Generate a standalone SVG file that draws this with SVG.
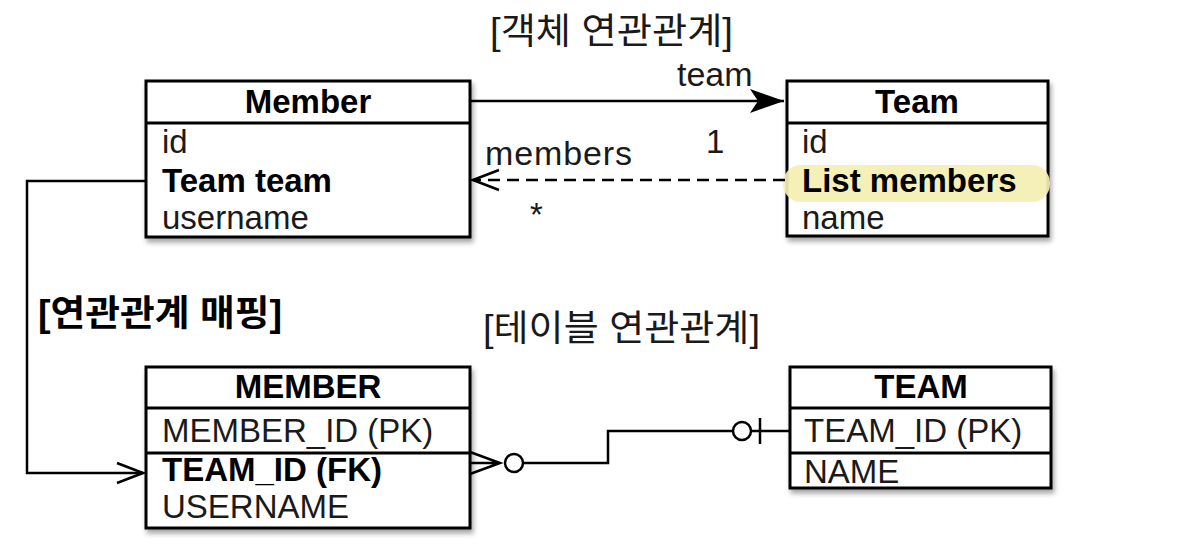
<svg xmlns="http://www.w3.org/2000/svg" width="1196" height="552" viewBox="0 0 1196 552">
<defs>
<style>
.box{fill:#fff;stroke:#000;stroke-width:3}
.sep{stroke:#000;stroke-width:3;fill:none}
.t{font-family:"Liberation Sans",Arial,sans-serif;font-size:33px;fill:#1a1a1a}
.l{font-size:34px}
.b{font-weight:bold;fill:#000}
.h{font-family:"Liberation Sans",Arial,sans-serif;font-size:33px;font-weight:bold;fill:#000;text-anchor:middle}
.k{font-family:"Liberation Sans","Noto Sans CJK KR",sans-serif;font-size:36px;fill:#1a1a1a}
.kb{font-weight:bold;fill:#000}
.ln{fill:none;stroke:#000;stroke-width:2.5}
</style>
<filter id="sh" x="-5%" y="-5%" width="112%" height="120%">
<feDropShadow dx="2" dy="4" stdDeviation="2.5" flood-color="#000" flood-opacity="0.35"/>
</filter>
<marker id="stealth" markerUnits="userSpaceOnUse" viewBox="0 0 36 26" markerWidth="36" markerHeight="26" refX="34" refY="13" orient="auto">
<path d="M0,1 L34,13 L0,25 L8,13 Z" fill="#000"/>
</marker>
<marker id="open" markerUnits="userSpaceOnUse" viewBox="0 0 30 24" markerWidth="30" markerHeight="24" refX="27" refY="12" orient="auto">
<path d="M1,2 L27,12 L1,22" fill="none" stroke="#000" stroke-width="2.5"/>
</marker>
</defs>
<rect width="1196" height="552" fill="#fff"/>

<g id="title-object">
<text class="k" x="490" y="44" textLength="243" lengthAdjust="spacingAndGlyphs">[객체 연관관계]</text>
</g>

<g id="node-member">
<rect class="box" x="146" y="81" width="324" height="156" filter="url(#sh)"/>
<path class="sep" d="M146,123 H470"/>
<text class="h" x="308" y="113">Member</text>
<text class="t" x="162" y="153">id</text>
<text class="t b" x="162" y="192">Team team</text>
<text class="t" x="162" y="229">username</text>
</g>

<g id="node-team">
<rect class="box" x="787" y="81" width="261" height="155" filter="url(#sh)"/>
<path class="sep" d="M787,123 H1048"/>
<rect x="783" y="165" width="267" height="37" rx="18" fill="#f3efb2" opacity="0.92"/>
<text class="h" x="917" y="113">Team</text>
<text class="t" x="802" y="153">id</text>
<text class="t b" x="802" y="192">List members</text>
<text class="t" x="802" y="229">name</text>
</g>

<g id="label-mapping">
<text class="k kb" x="38" y="326" textLength="244" lengthAdjust="spacingAndGlyphs">[연관관계 매핑]</text>
</g>

<g id="title-table">
<text class="k" x="483" y="341" textLength="277" lengthAdjust="spacingAndGlyphs">[테이블 연관관계]</text>
</g>

<g id="node-MEMBER">
<rect class="box" x="146" y="367" width="324" height="161" filter="url(#sh)"/>
<path class="sep" d="M146,408 H470 M146,453 H470"/>
<text class="h" x="308" y="398">MEMBER</text>
<text class="t" x="162" y="442">MEMBER_ID (PK)</text>
<text class="t b" x="162" y="481">TEAM_ID (FK)</text>
<text class="t" x="162" y="518">USERNAME</text>
</g>

<g id="node-TEAM">
<rect class="box" x="790" y="367" width="261" height="121" filter="url(#sh)"/>
<path class="sep" d="M790,408 H1051 M790,453 H1051"/>
<text class="h" x="921" y="398">TEAM</text>
<text class="t" x="804" y="442">TEAM_ID (PK)</text>
<text class="t" x="804" y="483">NAME</text>
</g>

<g id="connectors">
<path class="ln" d="M471,101 H784" marker-end="url(#stealth)"/>
<text class="t l" x="677" y="86">team</text>
<text class="t" x="706" y="153">1</text>
<path class="ln" d="M785,180 H473" stroke-dasharray="12 7" marker-end="url(#open)"/>
<text class="t l" x="485" y="165" textLength="147">members</text>
<text class="t" x="530" y="226">*</text>
<path class="ln" d="M145,181 H27 V473 H143" marker-end="url(#open)"/>
<path class="ln" d="M470,452 L500,463 L470,474 M470,463 H500"/>
<circle cx="514" cy="463" r="9" fill="#fff" stroke="#000" stroke-width="2.5"/>
<path class="ln" d="M523,463 H608 V431 H733"/>
<circle cx="742" cy="431" r="9" fill="#fff" stroke="#000" stroke-width="2.5"/>
<path class="ln" d="M751,431 H789 M760,418 V444"/>
</g>
</svg>
